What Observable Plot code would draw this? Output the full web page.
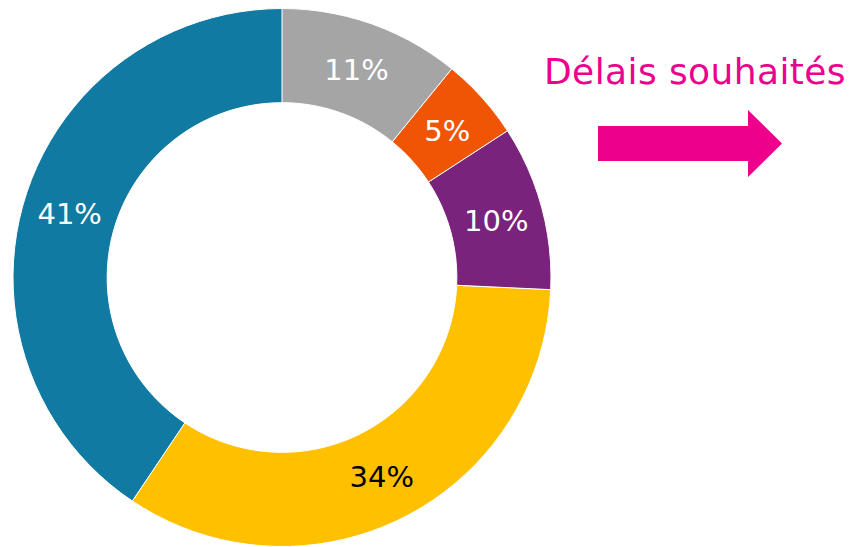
<!DOCTYPE html>
<html>
<head>
<meta charset="utf-8">
<script src="https://cdn.jsdelivr.net/npm/d3@7"></script>
<script src="https://cdn.jsdelivr.net/npm/@observablehq/plot@0.6"></script>
<style>
  html, body { margin: 0; padding: 0; background: #fff; }
  #wrap { position: relative; width: 850px; height: 547px; overflow: hidden; font-family: "DejaVu Sans", Verdana, sans-serif; }
  #chart { position: absolute; left: 0; top: 0; }
  #title { position: absolute; left: 544px; top: 54px; font-size: 36px; letter-spacing: 0.4px; color: #ec008c; white-space: nowrap; line-height: 1; }
  #arrow { position: absolute; left: 0; top: 0; }
</style>
</head>
<body>
<div id="wrap">
  <div id="chart"></div>
  <div id="title">Délais souhaités</div>
  <svg id="arrow" width="850" height="547"><polygon points="598,126 748,126 748,110 782,143.5 748,177 748,161 598,161" fill="#ec008c"/></svg>
</div>
<script>
// Data
const categories = ["Catégorie 1", "Catégorie 2", "Catégorie 3", "Catégorie 4", "Catégorie 5"];
const values = [11, 5, 10, 34, 41];
const labels = ["11%", "5%", "10%", "34%", "41%"];
const sliceColors = ["#a5a5a5", "#f05505", "#7a237d", "#ffc000", "#117aa2"];
const labelColors = ["white", "white", "white", "black", "white"];

const data = categories.map((c, i) => ({key: c, value: values[i], label: labels[i], labelColor: labelColors[i]}));
const arcs = d3.pie().sort(null).value(d => d.value)(data);

const inner = 0.65;
const steps = 120;
const pts = [];
for (const a of arcs) {
  const n = Math.max(2, Math.ceil(steps * (a.endAngle - a.startAngle) / (2 * Math.PI)));
  for (let k = 0; k <= n; k++) {
    const t = a.startAngle + (a.endAngle - a.startAngle) * k / n;
    pts.push({key: a.data.key, x: Math.sin(t), y: Math.cos(t)});
  }
  for (let k = n; k >= 0; k--) {
    const t = a.startAngle + (a.endAngle - a.startAngle) * k / n;
    pts.push({key: a.data.key, x: inner * Math.sin(t), y: inner * Math.cos(t)});
  }
}
const rl = (1 + inner) / 2;
const lbl = arcs.map(a => {
  const m = (a.startAngle + a.endAngle) / 2;
  return {label: a.data.label, color: a.data.labelColor, x: rl * Math.sin(m), y: rl * Math.cos(m)};
});

const cx = 281.5, cy = 277, R = 269;
const chart = Plot.plot({
  width: 850,
  height: 547,
  margin: 0,
  x: {domain: [-1, 1], range: [cx - R, cx + R], axis: null},
  y: {domain: [-1, 1], range: [cy + R, cy - R], axis: null},
  color: {domain: categories, range: sliceColors},
  style: {fontFamily: "'DejaVu Sans', Verdana, sans-serif", background: "transparent"},
  marks: [
    Plot.line(pts, {x: "x", y: "y", z: "key", fill: "key", stroke: "white", strokeWidth: 1, curve: "linear-closed"}),
    Plot.text(lbl, {x: "x", y: "y", dy: 2, text: "label", fill: "color", fontSize: 29, textAnchor: "middle", lineAnchor: "middle"})
  ]
});
document.getElementById("chart").appendChild(chart);
</script>
</body>
</html>
